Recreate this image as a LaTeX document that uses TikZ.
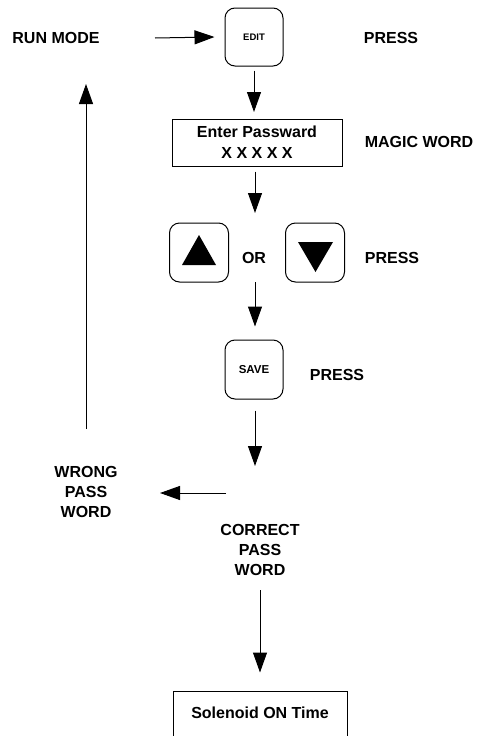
\documentclass[tikz,border=0pt]{standalone}
\usepackage{fontspec}
\setmainfont{Liberation Sans}
\usetikzlibrary{arrows.meta}
\begin{document}
\begin{tikzpicture}[x=1pt,y=-1pt,
  lbl/.style={font=\bfseries\fontsize{16}{20}\selectfont, align=center, inner sep=0pt},
  keybox/.style={draw, line width=1pt, rounded corners=10pt, minimum width=58pt, minimum height=58pt, inner sep=0pt},
  plainbox/.style={draw, line width=1pt, inner sep=0pt},
  flow/.style={line width=1pt, -{Triangle[length=20pt,width=14pt]}}]
\useasboundingbox (0,0) rectangle (478,736);
% nodes
\node[lbl] (runmode) at (56,38) {RUN MODE};
\node[keybox, font=\bfseries\fontsize{9.5}{11}\selectfont] (edit) at (254,37) {EDIT};
\node[lbl] (press1) at (391,38) {PRESS};
\node[plainbox, minimum width=170pt, minimum height=47pt, font=\bfseries\fontsize{16}{21}\selectfont, align=center] (pass) at (257,142.5) {Enter Passward\\X X X X X};
\node[lbl] (magic) at (419,142) {MAGIC WORD};
\node[keybox, minimum width=59pt, minimum height=59pt] (up) at (199,252.5) {};
\fill (182,265) -- (216,265) -- (199,235) -- cycle;
\node[lbl] (or) at (254,258) {OR};
\node[keybox, minimum width=59pt, minimum height=59pt] (down) at (315,252.5) {};
\fill (298,242) -- (333,242) -- (315.5,272) -- cycle;
\node[lbl] (press2) at (392,258) {PRESS};
\node[keybox, minimum height=59pt, font=\bfseries\fontsize{11.5}{13}\selectfont] (save) at (254,369.5) {SAVE};
\node[lbl] (press3) at (337,375) {PRESS};
\node[lbl] (wrong) at (86,492) {WRONG\\PASS\\WORD};
\node[lbl] (correct) at (260,550) {CORRECT\\PASS\\WORD};
\node[plainbox, minimum width=174pt, text height=27.5pt, text depth=26pt, anchor=base, font=\bfseries\fontsize{16}{20}\selectfont] (sol) at (260,718.5) {Solenoid ON Time};
% free ends
\coordinate (rmA) at (155,38);
\coordinate (p2) at (255,213);
\coordinate (or2) at (255,282);
\coordinate (s2) at (255,466);
\coordinate (w1) at (226,493);
\coordinate (w2) at (160,493);
\coordinate (u1) at (86,429);
\coordinate (u2) at (86,84);
\coordinate (c1) at (260,590);
% connectors
\draw[flow] (rmA) -- ([xshift=-10pt]edit.west);
\draw[flow] ([yshift=-4pt]edit.south) -- (254,112);
\draw[flow] ([yshift=-5pt]pass.south -| p2) -- (p2);
\draw[flow] (or2) -- ([yshift=13pt]save.north -| or2);
\draw[flow] ([yshift=-11pt]save.south -| s2) -- (s2);
\draw[flow] (w1) -- (w2);
\draw[flow] (u1) -- (u2);
\draw[flow] (c1) -- ([yshift=18pt]sol.north -| c1);
\end{tikzpicture}
\end{document}
